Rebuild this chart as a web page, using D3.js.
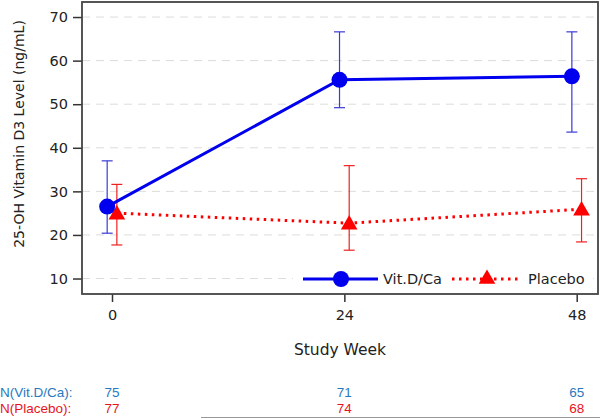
<!DOCTYPE html>
<html>
<head>
<meta charset="utf-8">
<script src="https://cdn.jsdelivr.net/npm/d3@7"></script>
<style>
body{margin:0;background:#fff;}
svg{display:block;}
</style>
</head>
<body>
<svg id="chart" width="600" height="419"></svg>
<script>
const weeks = [0, 24, 48];
const seriesNames = ["Vit.D/Ca", "Placebo"];
const vitMean = [26.5, 55.6, 56.4];
const vitLow = [20.4, 49.2, 43.6];
const vitHigh = [37.0, 66.6, 66.6];
const plaMean = [25.0, 22.7, 25.9];
const plaLow = [17.7, 16.5, 18.4];
const plaHigh = [31.6, 35.9, 32.9];
const vitN = [75, 71, 65];
const plaN = [77, 74, 68];
const yTicks = [10, 20, 30, 40, 50, 60, 70];
const xTicks = [0, 24, 48];

const svg = d3.select("#chart");
const L = 82, T = 2, R = 598, B = 294;
const x = d3.scaleLinear().domain([-3.1, 50.2]).range([L, R]);
const y = d3.scaleLinear().domain([6.45, 73.45]).range([B, T]);
const off = 0.5;
const font = "DejaVu Sans, Verdana, sans-serif";

// gridlines
svg.append("g").selectAll("line").data(yTicks).join("line")
  .attr("x1", L).attr("x2", R)
  .attr("y1", d => y(d)).attr("y2", d => y(d))
  .attr("stroke", "#dcdcdc").attr("stroke-width", 1).attr("stroke-dasharray", "8,6");

// axes
const yAxis = d3.axisLeft(y).tickValues(yTicks).tickSize(9).tickPadding(5);
const gy = svg.append("g").attr("transform", `translate(${L},0)`).call(yAxis);
const xAxis = d3.axisBottom(x).tickValues(xTicks).tickSize(8).tickPadding(8);
const gx = svg.append("g").attr("transform", `translate(0,${B})`).call(xAxis);
[gy, gx].forEach(g => {
  g.select(".domain").remove();
  g.selectAll(".tick line").attr("stroke", "#333").attr("stroke-width", 1.5);
  g.selectAll(".tick text").attr("fill", "#222").style("font-family", font).style("font-size", "14.5px");
});

// frame
svg.append("rect").attr("x", L).attr("y", T).attr("width", R - L).attr("height", B - T)
  .attr("fill", "none").attr("stroke", "#444").attr("stroke-width", 1.8);

// axis labels
svg.append("text").attr("transform", `translate(24,${134}) rotate(-90)`)
  .attr("text-anchor", "middle").attr("fill", "#222")
  .style("font-family", font).style("font-size", "14px")
  .text("25-OH Vitamin D3 Level (ng/mL)");
svg.append("text").attr("x", 340).attr("y", 355)
  .attr("text-anchor", "middle").attr("fill", "#222")
  .style("font-family", font).style("font-size", "15.5px")
  .text("Study Week");

const vit = weeks.map((w, i) => ({w: w - off, m: vitMean[i], lo: vitLow[i], hi: vitHigh[i]}));
const pla = weeks.map((w, i) => ({w: w + off, m: plaMean[i], lo: plaLow[i], hi: plaHigh[i]}));

function errorBars(data, color) {
  const g = svg.append("g").attr("stroke", color).attr("stroke-width", 1.2);
  g.selectAll(".v").data(data).join("line")
    .attr("x1", d => x(d.w)).attr("x2", d => x(d.w))
    .attr("y1", d => y(d.lo)).attr("y2", d => y(d.hi));
  g.selectAll(".t").data(data).join("line")
    .attr("x1", d => x(d.w) - 5.5).attr("x2", d => x(d.w) + 5.5)
    .attr("y1", d => y(d.hi)).attr("y2", d => y(d.hi));
  g.selectAll(".b").data(data).join("line")
    .attr("x1", d => x(d.w) - 5.5).attr("x2", d => x(d.w) + 5.5)
    .attr("y1", d => y(d.lo)).attr("y2", d => y(d.lo));
}
errorBars(vit, "#3a3ad8");
errorBars(pla, "#f02020");

const line = d3.line().x(d => x(d.w)).y(d => y(d.m));
svg.append("path").datum(pla).attr("d", line).attr("fill", "none")
  .attr("stroke", "#ff0000").attr("stroke-width", 3).attr("stroke-dasharray", "2.5,4.5");
svg.append("path").datum(vit).attr("d", line).attr("fill", "none")
  .attr("stroke", "#0000ee").attr("stroke-width", 3);

const tri = d3.symbol().type(d3.symbolTriangle).size(120);
svg.selectAll(".pt").data(pla).join("path")
  .attr("transform", d => `translate(${x(d.w)},${y(d.m) + 1.5})`)
  .attr("d", tri).attr("fill", "#ff0000");
svg.selectAll(".cp").data(vit).join("circle")
  .attr("cx", d => x(d.w)).attr("cy", d => y(d.m)).attr("r", 8).attr("fill", "#0000ee");

// legend
const lg = svg.append("g");
const ly = 279;
lg.append("rect").attr("x", 293).attr("y", 267).attr("width", 300).attr("height", 24).attr("fill", "#fff");
lg.append("line").attr("x1", 303).attr("x2", 378).attr("y1", ly).attr("y2", ly)
  .attr("stroke", "#0000ee").attr("stroke-width", 3);
lg.append("circle").attr("cx", 341).attr("cy", ly).attr("r", 8).attr("fill", "#0000ee");
lg.append("text").attr("x", 383).attr("y", ly + 5).attr("fill", "#222")
  .style("font-family", font).style("font-size", "14.5px").text(seriesNames[0]);
lg.append("line").attr("x1", 452).attr("x2", 520).attr("y1", ly).attr("y2", ly)
  .attr("stroke", "#ff0000").attr("stroke-width", 3).attr("stroke-dasharray", "2.5,4.5");
lg.append("path").attr("transform", `translate(487,${ly})`).attr("d", tri).attr("fill", "#ff0000");
lg.append("text").attr("x", 528).attr("y", ly + 5).attr("fill", "#222")
  .style("font-family", font).style("font-size", "14.5px").text(seriesNames[1]);

// N table
const nf = "Liberation Sans, Arial, sans-serif";
const blueN = "#2a79c0", redN = "#e8131e";
const ns = "13.5px";
svg.append("text").attr("x", 0).attr("y", 397).attr("fill", blueN)
  .style("font-family", nf).style("font-size", ns).text("N(" + seriesNames[0] + "):");
svg.append("text").attr("x", 0).attr("y", 413).attr("fill", redN)
  .style("font-family", nf).style("font-size", ns).text("N(" + seriesNames[1] + "):");
svg.selectAll(".nv").data(weeks).join("text")
  .attr("x", d => x(d)).attr("y", 397).attr("text-anchor", "middle").attr("fill", blueN)
  .style("font-family", nf).style("font-size", ns).text((d, i) => vitN[i]);
svg.selectAll(".np").data(weeks).join("text")
  .attr("x", d => x(d)).attr("y", 413).attr("text-anchor", "middle").attr("fill", redN)
  .style("font-family", nf).style("font-size", ns).text((d, i) => plaN[i]);
svg.append("line").attr("x1", 201).attr("x2", 600).attr("y1", 417.5).attr("y2", 417.5)
  .attr("stroke", "#999").attr("stroke-width", 1);
</script>
</body>
</html>
